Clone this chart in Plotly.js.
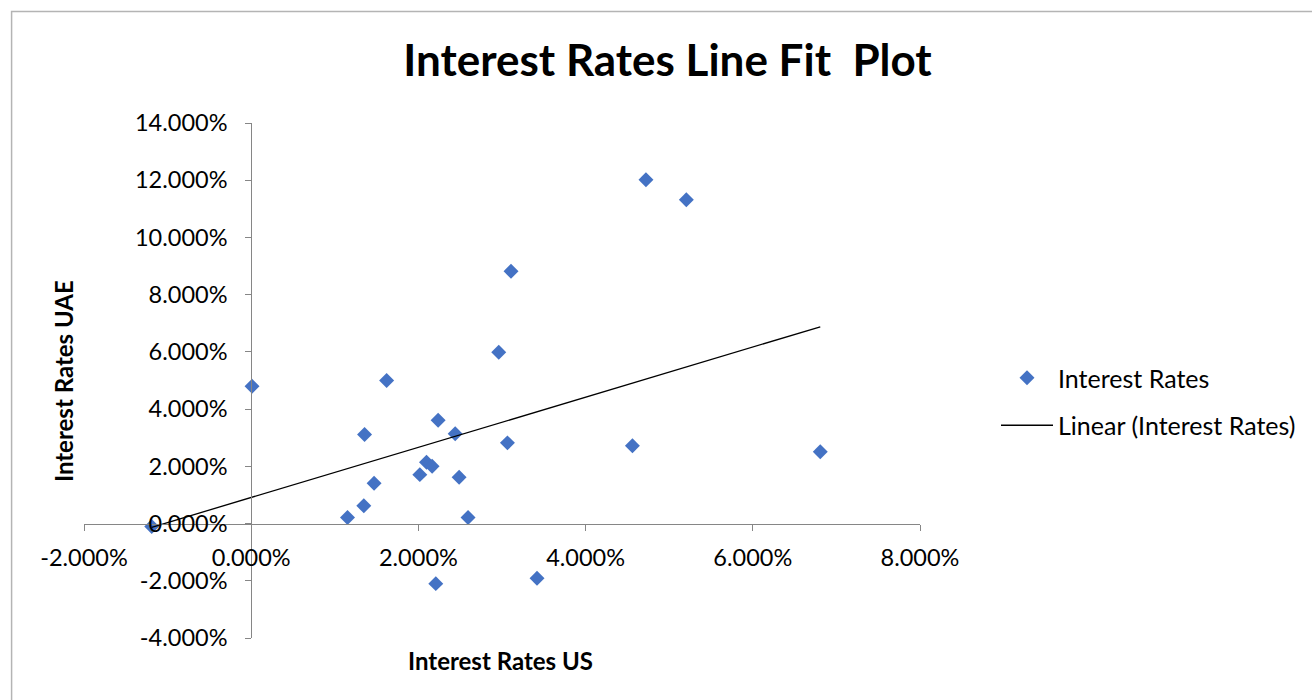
<!DOCTYPE html>
<html>
<head>
<meta charset="utf-8">
<script src="https://cdn.plot.ly/plotly-3.0.1.min.js"></script>
<style>
  html, body { margin: 0; padding: 0; background: #fff; }
  #chart { width: 1312px; height: 700px; }
</style>
</head>
<body>
<div id="chart"></div>
<script>
// Interest rates, US (x) vs UAE (y), as fractions
const usRates = [
  0.0001, -0.0119, 0.0162, 0.01356, 0.02236, 0.0244, 0.03108, 0.02961,
  0.03065, 0.02097, 0.02164, 0.02017, 0.02487, 0.0147, 0.01347, 0.01152,
  0.02594, 0.02208, 0.03419, 0.0456, 0.04722, 0.05205, 0.06807
];
const uaeRates = [
  0.0480, -0.0010, 0.0500, 0.0311, 0.0361, 0.0314, 0.0882, 0.0599,
  0.0282, 0.0214, 0.0200, 0.0171, 0.0162, 0.0141, 0.0062, 0.0021,
  0.0021, -0.0210, -0.0191, 0.0272, 0.1202, 0.1132, 0.0251
];

// Axis tick positions
const xTicks = [-0.02, 0, 0.02, 0.04, 0.06, 0.08];
const yTicks = [-0.04, -0.02, 0, 0.02, 0.04, 0.06, 0.08, 0.10, 0.12, 0.14];

const seriesName = 'Interest Rates';
const trendName = 'Linear (Interest Rates)';
const chartTitle = 'Interest Rates Line Fit\u00A0 Plot';
const xTitle = 'Interest Rates US';
const yTitle = 'Interest Rates UAE';

const xRange = [-0.02, 0.08];
const yRange = [-0.04, 0.14];

// Percent labels with three decimals and a plain hyphen for negatives
const pct = v => (v * 100).toFixed(3).replace(/^-0\.000$/, '0.000') + '%';

// Least-squares fit of UAE on US rates
function linearFit(xs, ys) {
  const n = xs.length;
  const mx = xs.reduce((a, b) => a + b, 0) / n;
  const my = ys.reduce((a, b) => a + b, 0) / n;
  let sxy = 0, sxx = 0;
  for (let i = 0; i < n; i++) {
    sxy += (xs[i] - mx) * (ys[i] - my);
    sxx += (xs[i] - mx) * (xs[i] - mx);
  }
  const slope = sxy / sxx;
  return { slope, intercept: my - slope * mx };
}
const fit = linearFit(usRates, uaeRates);
const trendX = [Math.min(...usRates), Math.max(...usRates)];
const trendY = trendX.map(x => fit.intercept + fit.slope * x);

// Page geometry
const W = 1312, H = 700;
const M = { l: 84, r: 391, t: 123, b: 62 };
const plotW = W - M.l - M.r;
const plotH = H - M.t - M.b;
const px2paperX = px => (px - M.l) / plotW;
const py2paperY = py => (H - M.b - py) / plotH;

const FONT = 'Lato, "Open Sans", sans-serif';
const axisGrey = '#868686';
const tickFont = { family: FONT, size: 23.5, color: '#000000' };

const traces = [
  {
    type: 'scatter',
    mode: 'markers',
    name: seriesName,
    x: usRates,
    y: uaeRates,
    marker: { symbol: 'diamond', size: 11.5, color: '#4472C4', line: { width: 0 } },
    legendgroup: 'a',
    hoverinfo: 'x+y'
  },
  {
    type: 'scatter',
    mode: 'lines',
    name: trendName,
    x: trendX,
    y: trendY,
    line: { color: '#000000', width: 1.3 },
    legendgroup: 'b',
    hoverinfo: 'skip'
  }
];

const layout = {
  width: W,
  height: H,
  margin: M,
  paper_bgcolor: '#ffffff',
  plot_bgcolor: 'rgba(0,0,0,0)',
  font: { family: FONT, color: '#000000', size: 22 },
  title: {
    text: chartTitle,
    font: { family: FONT, size: 44, weight: 700, color: '#000000' },
    xref: 'container', yref: 'container',
    x: 667.5 / W, y: 1 - 61 / H,
    xanchor: 'center', yanchor: 'middle'
  },
  xaxis: {
    range: xRange,
    tickmode: 'array',
    tickvals: xTicks,
    ticktext: xTicks.map(pct),
    anchor: 'free',
    position: (0 - yRange[0]) / (yRange[1] - yRange[0]),
    showline: true, linecolor: axisGrey, linewidth: 1,
    ticks: 'outside', ticklen: 6, tickcolor: axisGrey, tickwidth: 1,
    ticklabelstandoff: 7,
    showgrid: false, zeroline: false,
    automargin: false,
    tickfont: tickFont,
    fixedrange: true
  },
  yaxis: {
    range: yRange,
    tickmode: 'array',
    tickvals: yTicks,
    ticktext: yTicks.map(pct),
    anchor: 'free',
    position: (0 - xRange[0]) / (xRange[1] - xRange[0]),
    showline: true, linecolor: axisGrey, linewidth: 1,
    ticks: 'outside', ticklen: 6, tickcolor: axisGrey, tickwidth: 1,
    ticklabelstandoff: 13,
    showgrid: false, zeroline: false,
    automargin: false,
    tickfont: tickFont,
    fixedrange: true
  },
  showlegend: true,
  legend: {
    x: px2paperX(996), xanchor: 'left',
    y: py2paperY(355), yanchor: 'top',
    traceorder: 'grouped',
    tracegroupgap: 12,
    itemwidth: 52,
    bgcolor: 'rgba(0,0,0,0)',
    borderwidth: 0,
    font: { family: FONT, size: 25, color: '#000000' }
  },
  annotations: [
    {
      text: xTitle, showarrow: false,
      xref: 'paper', yref: 'paper',
      x: px2paperX(501), y: py2paperY(660),
      xanchor: 'center', yanchor: 'middle',
      font: { family: FONT, size: 24, weight: 700, color: '#000000' }
    },
    {
      text: yTitle, showarrow: false, textangle: -90,
      xref: 'paper', yref: 'paper',
      x: px2paperX(63), y: py2paperY(381),
      xanchor: 'center', yanchor: 'middle',
      font: { family: FONT, size: 24, weight: 700, color: '#000000' }
    }
  ],
  shapes: [
    {
      // chart frame; only its top and left edges fall on the page
      type: 'rect', xref: 'paper', yref: 'paper',
      x0: px2paperX(11.5), x1: px2paperX(W + 20),
      y0: py2paperY(H + 20), y1: py2paperY(11.5),
      line: { color: '#b4b4b4', width: 1.5 },
      fillcolor: 'rgba(0,0,0,0)',
      layer: 'below'
    }
  ]
};

Plotly.newPlot('chart', traces, layout, { displayModeBar: false, responsive: false, staticPlot: true });
</script>
</body>
</html>
